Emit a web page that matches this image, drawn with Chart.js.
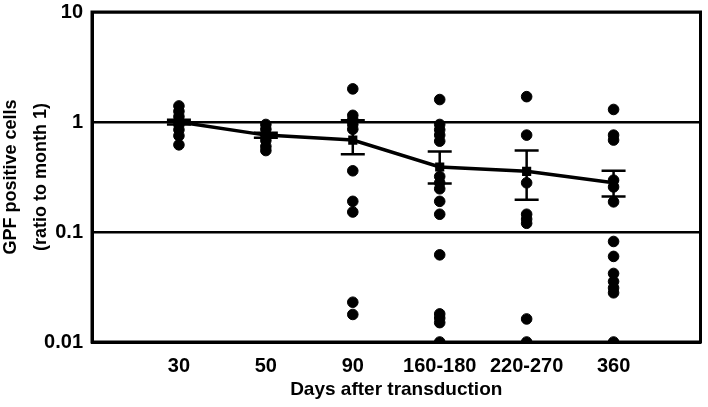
<!DOCTYPE html>
<html>
<head>
<meta charset="utf-8">
<script src="https://cdn.jsdelivr.net/npm/chart.js@4.4.0/dist/chart.umd.min.js"></script>
<style>
  body { margin: 0; background: #fff; }
  #wrap { width: 708px; height: 407px; }
</style>
</head>
<body>
<div id="wrap"><canvas id="chart" width="708" height="407"></canvas></div>
<script>
// categories on the x axis
var days = ['30', '50', '90', '160-180', '220-270', '360'];

// individual animals, per time point (ratio to month 1)
var day30 = [1.4, 1.25, 1.12, 1.02, 0.95, 0.85, 0.75, 0.62];
var day50 = [0.95, 0.86, 0.76, 0.68, 0.6, 0.55];
var day90 = [2.0, 1.15, 1.05, 0.95, 0.86, 0.36, 0.19, 0.152, 0.023, 0.0178];
var day160 = [1.6, 0.95, 0.85, 0.76, 0.67, 0.32, 0.28, 0.247, 0.19, 0.145, 0.062, 0.018, 0.0165, 0.015, 0.01];
var day220 = [1.7, 0.76, 0.28, 0.145, 0.131, 0.12, 0.0162, 0.01];
var day360 = [1.3, 0.76, 0.685, 0.296, 0.257, 0.188, 0.082, 0.06, 0.042, 0.0355, 0.031, 0.028, 0.01];

// group mean and error bar ends
var means = [1.0, 0.76, 0.685, 0.39, 0.356, 0.28];
var errLow = [0.95, 0.72, 0.51, 0.276, 0.196, 0.21];
var errHigh = [1.05, 0.8, 1.04, 0.54, 0.55, 0.36];

var yTicks = [0.01, 0.1, 1, 10];

var groups = [day30, day50, day90, day160, day220, day360];
var dots = [];
groups.forEach(function (g, i) {
    g.forEach(function (v) { dots.push({ x: i + 1, y: v }); });
});
var meanPts = means.map(function (v, i) { return { x: i + 1, y: v }; });

var FONT = '"Liberation Sans", Arial, Helvetica, sans-serif';

// error bars + the frame round the plot
var errorBars = {
    id: 'errorBars',
    afterDatasetsDraw: function (chart) {
        var ctx = chart.ctx, xs = chart.scales.x, ys = chart.scales.y;
        ctx.save();
        ctx.strokeStyle = '#000';
        ctx.lineWidth = 2.5;
        for (var i = 0; i < means.length; i++) {
            var x = xs.getPixelForValue(i + 1);
            var y1 = ys.getPixelForValue(errLow[i]);
            var y2 = ys.getPixelForValue(errHigh[i]);
            ctx.beginPath();
            ctx.moveTo(x, y1); ctx.lineTo(x, y2);
            ctx.moveTo(x - 12, y1); ctx.lineTo(x + 12, y1);
            ctx.moveTo(x - 12, y2); ctx.lineTo(x + 12, y2);
            ctx.stroke();
        }
        var a = chart.chartArea;
        ctx.lineWidth = 3;
        ctx.strokeRect(a.left, a.top, a.right - a.left, a.bottom - a.top);
        ctx.restore();
    }
};

new Chart(document.getElementById('chart'), {
    type: 'scatter',
    data: {
        datasets: [
            {
                label: 'mean',
                type: 'line',
                data: meanPts,
                borderColor: '#000',
                backgroundColor: '#000',
                borderWidth: 3.5,
                pointRadius: 4,
                pointStyle: 'rect',
                tension: 0,
                order: 0
            },
            {
                label: 'animals',
                data: dots,
                backgroundColor: '#000',
                borderColor: '#000',
                pointRadius: 5.3,
                order: 1
            }
        ]
    },
    options: {
        responsive: false,
        animation: false,
        layout: { padding: { top: 12, right: 3, left: 0, bottom: 0 } },
        plugins: {
            legend: { display: false },
            tooltip: { enabled: false }
        },
        scales: {
            x: {
                type: 'linear',
                min: 0,
                max: 7,
                afterBuildTicks: function (s) {
                    s.ticks = days.map(function (d, i) { return { value: i + 1 }; });
                },
                afterFit: function (s) { s.height = 65; },
                grid: { display: false, drawTicks: false },
                border: { color: '#000', width: 3 },
                ticks: {
                    color: '#000',
                    padding: 12,
                    maxRotation: 0,
                    autoSkip: false,
                    font: { family: FONT, size: 20, weight: 'bold' },
                    callback: function (v) { return days[v - 1]; }
                },
                title: {
                    display: true,
                    text: 'Days after transduction',
                    color: '#000',
                    padding: { top: 0, bottom: 6 },
                    font: { family: FONT, size: 19, weight: 'bold' }
                }
            },
            y: {
                type: 'logarithmic',
                min: 0.01,
                max: 10,
                afterBuildTicks: function (s) {
                    s.ticks = yTicks.map(function (v) { return { value: v }; });
                },
                afterFit: function (s) {
                    s.width = 92;
                    s.paddingTop = 0;
                    s.paddingBottom = 0;
                },
                grid: { color: '#000', lineWidth: 2.5, drawTicks: false },
                border: { color: '#000', width: 3 },
                ticks: {
                    color: '#000',
                    padding: 9,
                    font: { family: FONT, size: 20, weight: 'bold' },
                    callback: function (v) { return String(v); }
                },
                title: {
                    display: true,
                    text: ['GPF positive cells', '(ratio to month 1)'],
                    color: '#000',
                    padding: { top: -4, bottom: 0 },
                    font: { family: FONT, size: 18, weight: 'bold', lineHeight: 1.65 }
                }
            }
        }
    },
    plugins: [errorBars]
});
</script>
</body>
</html>
